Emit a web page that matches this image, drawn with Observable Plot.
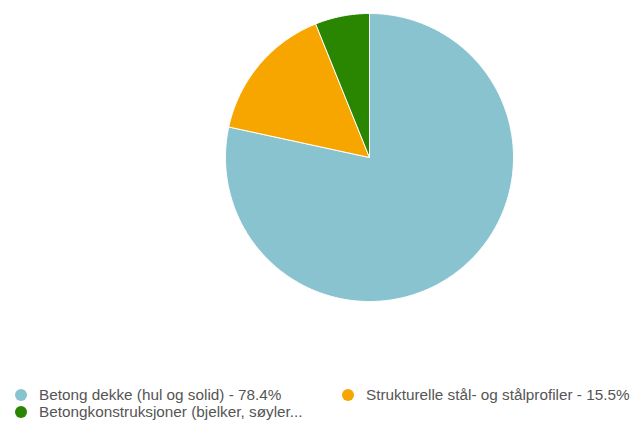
<!DOCTYPE html>
<html>
<head>
<meta charset="utf-8">
<script src="https://cdn.jsdelivr.net/npm/d3@7"></script>
<script src="https://cdn.jsdelivr.net/npm/@observablehq/plot@0.6"></script>
<style>
  body { margin: 0; background: #fff; font-family: "Liberation Sans", Arial, sans-serif; }
  #wrap { position: relative; width: 644px; height: 421px; overflow: hidden; }
  #chart { position: absolute; left: 0; top: 0; }
  .leg { position: absolute; display: flex; align-items: center; font-size: 15.3px; color: #555; white-space: nowrap; }
  .dot { width: 12px; height: 12px; border-radius: 50%; margin-right: 12px; flex: none; }
</style>
</head>
<body>
<div id="wrap">
  <div id="chart"></div>
</div>
<script>
const categories = [
  "Betong dekke (hul og solid)",
  "Strukturelle stål- og stålprofiler",
  "Betongkonstruksjoner (bjelker, søyler..."
];
const values = [78.4, 15.5, 6.1];
const legendLabels = [
  "Betong dekke (hul og solid) - 78.4%",
  "Strukturelle stål- og stålprofiler - 15.5%",
  "Betongkonstruksjoner (bjelker, søyler..."
];
const palette = ["#88c3cf", "#f7a600", "#2a8500"];

// Build slice polygons from the data with d3.pie
const arcs = d3.pie().sort(null).value(d => d)(values);
const pts = [];
arcs.forEach((a, i) => {
  const name = categories[i];
  pts.push({name, x: 0, y: 0});
  const n = Math.max(4, Math.ceil((a.endAngle - a.startAngle) / 0.01));
  for (let k = 0; k <= n; k++) {
    const t = a.startAngle + (a.endAngle - a.startAngle) * k / n;
    pts.push({name, x: Math.sin(t), y: Math.cos(t)});
  }
  pts.push({name, x: 0, y: 0});
});

const svgH = 380;
const chart = Plot.plot({
  width: 644,
  height: svgH,
  marginLeft: 225,
  marginRight: 131,
  marginTop: 13,
  marginBottom: svgH - 301,
  x: {domain: [-1, 1], axis: null},
  y: {domain: [-1, 1], axis: null},
  color: {domain: categories, range: palette},
  marks: [
    Plot.line(pts, {x: "x", y: "y", z: "name", fill: "name", stroke: "#ffffff", strokeWidth: 1, strokeLinejoin: "round"})
  ]
});
document.getElementById("chart").appendChild(chart);

// Legend
const legPos = [[15, 395], [342, 395], [15, 412]];
const wrap = document.getElementById("wrap");
legendLabels.forEach((lab, i) => {
  const d = document.createElement("div");
  d.className = "leg";
  d.style.left = legPos[i][0] + "px";
  d.style.top = (legPos[i][1] - 9) + "px";
  d.style.height = "18px";
  const dot = document.createElement("span");
  dot.className = "dot";
  dot.style.background = palette[i];
  const tx = document.createElement("span");
  tx.textContent = lab;
  d.appendChild(dot);
  d.appendChild(tx);
  wrap.appendChild(d);
});
</script>
</body>
</html>
